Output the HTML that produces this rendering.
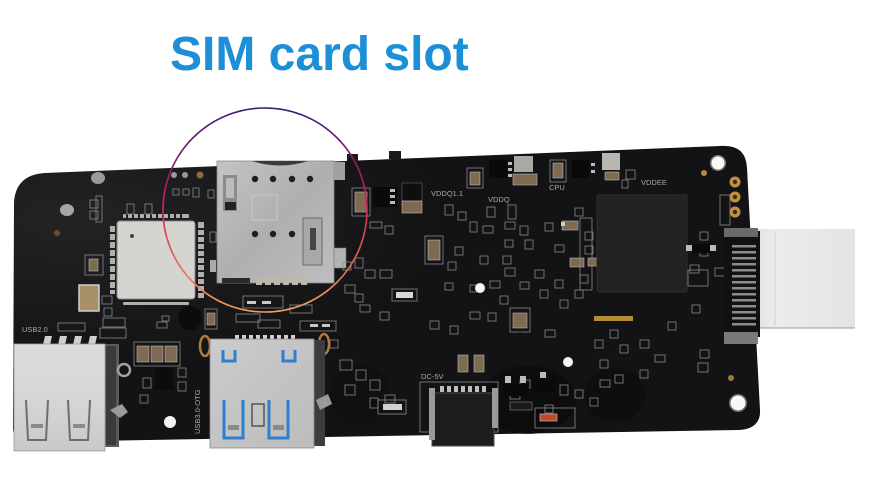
<!DOCTYPE html>
<html><head><meta charset="utf-8">
<style>
html,body{margin:0;padding:0;background:#fff;}
body{width:870px;height:497px;overflow:hidden;position:relative;font-family:"Liberation Sans",sans-serif;}
svg{position:absolute;left:0;top:0;}
.s{fill:none;stroke:#8a8a8a;stroke-width:0.8;}
.c{fill:#7d6a50;stroke:#b9b9b9;stroke-width:0.6;}
.p{fill:#b8b8b8;}
.lb{font-family:"Liberation Sans",sans-serif;font-size:7.5px;fill:#a8a8a8;}
</style></head><body>
<svg width="870" height="497" viewBox="0 0 870 497">
<defs>
 <linearGradient id="ring" x1="0" y1="0" x2="0" y2="1">
  <stop offset="0" stop-color="#3a1a7a"/>
  <stop offset="0.45" stop-color="#c4205e"/>
  <stop offset="1" stop-color="#f7a058"/>
 </linearGradient>
 <radialGradient id="bd" cx="0.08" cy="0.25" r="0.5">
  <stop offset="0" stop-color="#232326"/>
  <stop offset="1" stop-color="#131315"/>
 </radialGradient>
 <linearGradient id="sim" x1="0" y1="0" x2="1" y2="1">
  <stop offset="0" stop-color="#c4c4c4"/><stop offset="0.5" stop-color="#afafaf"/><stop offset="1" stop-color="#bebebe"/>
 </linearGradient>
 <linearGradient id="usb2" x1="0" y1="0" x2="0" y2="1">
  <stop offset="0" stop-color="#dcdcdc"/><stop offset="0.5" stop-color="#d6d6d6"/><stop offset="1" stop-color="#c9c9c9"/>
 </linearGradient>
 <linearGradient id="usb3" x1="0" y1="0" x2="1" y2="1">
  <stop offset="0" stop-color="#cbcbcb"/><stop offset="1" stop-color="#bcbcbc"/>
 </linearGradient>
 <linearGradient id="rib" x1="0" y1="0" x2="1" y2="0">
  <stop offset="0" stop-color="#e2e2e2"/><stop offset="0.2" stop-color="#ececec"/><stop offset="1" stop-color="#e4e4e4"/>
 </linearGradient>
</defs>

<text x="170" y="70" font-family="Liberation Sans, sans-serif" font-size="48" font-weight="bold" fill="#1c8fd6">SIM card slot</text>

<!-- small protrusions above board -->
<rect x="389" y="151" width="12" height="8" fill="#1a1a1a"/>
<rect x="347" y="154" width="11" height="8" fill="#1a1a1a"/>

<!-- ribbon -->
<rect x="755" y="229" width="100" height="99" fill="url(#rib)"/>
<line x1="775" y1="231" x2="775" y2="326" stroke="#d0d0d0" stroke-width="1"/>
<line x1="755" y1="328" x2="855" y2="328" stroke="#b09080" stroke-width="1"/>

<!-- board -->
<path d="M14,205 C14,186 24,174 45,173 L720,146 C738,145 746,152 747,168 L760,410 C761,423 752,430 738,430 L30,442 C19,442 13,437 13,428 Z" fill="url(#bd)"/>
<ellipse cx="528" cy="400" rx="48" ry="34" fill="#0c0c0e" opacity="0.7"/>
<ellipse cx="615" cy="395" rx="30" ry="28" fill="#0c0c0e" opacity="0.6"/>
<ellipse cx="360" cy="395" rx="30" ry="30" fill="#0d0d0f" opacity="0.5"/>

<!-- left holes / spots -->
<ellipse cx="98" cy="178" rx="7" ry="6" fill="#9a9a96"/>
<ellipse cx="67" cy="210" rx="7" ry="6" fill="#a8a8a2"/>
<circle cx="57" cy="233" r="3" fill="#6a4f2c"/>

<!-- wifi module pads -->
<g fill="#b0b0b0">
 <rect x="123" y="214" width="66" height="4" rx="1"/>
 <rect x="123" y="302" width="66" height="3" rx="1"/>
 <rect x="110" y="226" width="5" height="68"/>
 <rect x="198" y="222" width="6" height="76"/>
</g>
<g fill="#1e1e1e">
 <rect x="126" y="214" width="2" height="4"/><rect x="132" y="214" width="2" height="4"/><rect x="138" y="214" width="2" height="4"/><rect x="144" y="214" width="2" height="4"/><rect x="150" y="214" width="2" height="4"/><rect x="156" y="214" width="2" height="4"/><rect x="162" y="214" width="2" height="4"/><rect x="168" y="214" width="2" height="4"/><rect x="174" y="214" width="2" height="4"/><rect x="180" y="214" width="2" height="4"/>
 <rect x="198" y="228" width="6" height="2"/><rect x="198" y="235" width="6" height="2"/><rect x="198" y="242" width="6" height="2"/><rect x="198" y="249" width="6" height="2"/><rect x="198" y="256" width="6" height="2"/><rect x="198" y="263" width="6" height="2"/><rect x="198" y="270" width="6" height="2"/><rect x="198" y="277" width="6" height="2"/><rect x="198" y="284" width="6" height="2"/><rect x="198" y="291" width="6" height="2"/>
 <rect x="110" y="232" width="5" height="2"/><rect x="110" y="240" width="5" height="2"/><rect x="110" y="248" width="5" height="2"/><rect x="110" y="256" width="5" height="2"/><rect x="110" y="264" width="5" height="2"/><rect x="110" y="272" width="5" height="2"/><rect x="110" y="280" width="5" height="2"/><rect x="110" y="288" width="5" height="2"/>
</g>
<rect x="117" y="221" width="78" height="78" rx="3" fill="#d6d4ce" stroke="#8a8a86" stroke-width="1"/>
<circle cx="132" cy="236" r="2" fill="#444"/>

<!-- crystal & caps left -->
<rect x="79" y="285" width="20" height="26" fill="#a89068" stroke="#cfcfcf" stroke-width="1.5"/>
<rect x="89" y="259" width="9" height="12" class="c"/>
<rect x="85" y="255" width="18" height="20" class="s"/>
<rect x="90" y="200" width="8" height="8" class="s"/>
<rect x="90" y="211" width="8" height="8" class="s"/>
<rect x="96" y="196" width="6" height="26" class="s"/>
<rect x="127" y="204" width="7" height="10" class="s"/>
<rect x="145" y="204" width="7" height="10" class="s"/>
<rect x="102" y="296" width="10" height="8" class="s"/>
<rect x="104" y="308" width="8" height="8" class="s"/>
<rect x="157" y="322" width="10" height="6" class="s"/>
<rect x="103" y="318" width="22" height="9" class="s"/>
<rect x="100" y="328" width="26" height="10" class="s"/>

<!-- USB2 label -->
<text x="22" y="332" class="lb" font-size="8">USB2.0</text>
<rect x="58" y="323" width="27" height="8" class="s"/>

<!-- components near USB2 -->
<rect x="137" y="346" width="12" height="16" class="c"/>
<rect x="151" y="346" width="12" height="16" class="c"/>
<rect x="165" y="346" width="12" height="16" class="c"/>
<rect x="134" y="342" width="46" height="24" class="s"/>
<rect x="155" y="368" width="18" height="22" fill="#0c0c0c"/>
<rect x="143" y="378" width="8" height="10" class="s"/>
<rect x="178" y="368" width="8" height="9" class="s"/>
<rect x="178" y="382" width="8" height="9" class="s"/>
<rect x="140" y="395" width="8" height="8" class="s"/>
<circle cx="170" cy="422" r="6" fill="#f2f2f2"/>

<!-- USB2 connector -->
<g fill="#cfcfcf">
 <polygon points="45,336 52,336 50,345 43,345"/>
 <polygon points="60,336 67,336 65,345 58,345"/>
 <polygon points="75,336 82,336 80,345 73,345"/>
 <polygon points="90,336 97,336 95,345 88,345"/>
</g>
<rect x="103" y="344" width="16" height="103" fill="#5a5a5a"/>
<rect x="106" y="346" width="10" height="99" fill="#3a3a3a"/>
<circle cx="124" cy="370" r="6" fill="none" stroke="#a0a0a0" stroke-width="2.5"/>
<path d="M110,410 L122,404 L128,412 L120,418 Z" fill="#9a9a9a"/>
<rect x="14" y="344" width="91" height="107" fill="url(#usb2)" stroke="#9a9a9a" stroke-width="0.8"/>
<g fill="none" stroke="#6e6e6e" stroke-width="2">
 <path d="M26,400 L28,440 L46,440 L48,400"/>
 <path d="M68,400 L70,440 L88,440 L90,400"/>
</g>
<g fill="#8a8a8a">
 <rect x="31" y="424" width="12" height="4"/><rect x="73" y="424" width="12" height="4"/>
</g>

<!-- SIM slot area small stuff -->
<circle cx="174" cy="175" r="3" fill="#9a9a90"/>
<circle cx="185" cy="175" r="3" fill="#9a9a90"/>
<circle cx="200" cy="175" r="3.5" fill="#8a6a3a"/>
<rect x="173" y="189" width="6" height="6" class="s"/>
<rect x="183" y="189" width="6" height="6" class="s"/>
<rect x="193" y="188" width="6" height="9" class="s"/>
<rect x="208" y="190" width="6" height="8" class="s"/>
<rect x="210" y="232" width="6" height="10" class="s"/>
<rect x="210" y="260" width="6" height="12" fill="#aaa"/>

<!-- SIM slot -->
<rect x="217" y="161" width="117" height="122" fill="url(#sim)" stroke="#888" stroke-width="0.8"/>
<path d="M252,161 Q280,170 308,161 Z" fill="#3a3a3a"/>
<rect x="223" y="175" width="14" height="36" fill="#8c8c8c"/>
<rect x="226" y="178" width="8" height="20" fill="#bcbcbc"/>
<rect x="225" y="202" width="11" height="8" fill="#222"/>
<g fill="#1e1e1e">
 <circle cx="255" cy="179" r="3.2"/><circle cx="273" cy="179" r="3.2"/><circle cx="292" cy="179" r="3.2"/><circle cx="310" cy="179" r="3.2"/>
 <circle cx="255" cy="234" r="3.2"/><circle cx="273" cy="234" r="3.2"/><circle cx="292" cy="234" r="3.2"/>
</g>
<rect x="252" y="195" width="25" height="25" fill="none" stroke="#c8c8c8" stroke-width="1"/>
<rect x="303" y="218" width="19" height="47" fill="#a8a8a8" stroke="#6a6a6a" stroke-width="1"/>
<rect x="310" y="228" width="6" height="22" fill="#444"/>
<rect x="333" y="162" width="12" height="18" fill="#a0a0a0"/>
<rect x="334" y="248" width="12" height="20" fill="#b4b4b4" stroke="#777" stroke-width="0.6"/>
<rect x="222" y="278" width="28" height="5" fill="#2a2a2a"/>
<g fill="#c0b8a8">
 <rect x="256" y="278" width="6" height="7"/><rect x="265" y="278" width="6" height="7"/><rect x="274" y="278" width="6" height="7"/><rect x="283" y="278" width="6" height="7"/><rect x="292" y="278" width="6" height="7"/><rect x="301" y="278" width="6" height="7"/>
</g>

<!-- below SIM -->
<rect x="243" y="296" width="40" height="12" class="s"/>
<rect x="236" y="314" width="24" height="8" class="s"/>
<rect x="258" y="320" width="22" height="8" class="s"/>
<rect x="290" y="305" width="22" height="8" class="s"/>
<rect x="300" y="321" width="36" height="10" class="s"/>
<rect x="205" y="309" width="12" height="20" class="s"/>
<rect x="207" y="313" width="8" height="12" class="c"/>
<rect x="162" y="316" width="7" height="5" class="s"/>
<ellipse cx="190" cy="318" rx="12" ry="12" fill="#0c0c0d"/>
<rect x="247" y="301" width="9" height="3" fill="#c8c8c8"/><rect x="262" y="301" width="9" height="3" fill="#c8c8c8"/>
<rect x="310" y="324" width="8" height="3" fill="#c8c8c8"/><rect x="322" y="324" width="8" height="3" fill="#c8c8c8"/>

<!-- right of SIM -->
<rect x="355" y="192" width="12" height="20" class="c"/>
<rect x="352" y="188" width="18" height="28" class="s"/>
<rect x="373" y="187" width="24" height="20" fill="#0a0a0a"/>
<rect x="390" y="189" width="5" height="3" fill="#bbb"/><rect x="390" y="195" width="5" height="3" fill="#bbb"/><rect x="390" y="201" width="5" height="3" fill="#bbb"/>
<rect x="402" y="183" width="20" height="18" fill="#0e0e0e" stroke="#666" stroke-width="0.6"/>
<rect x="402" y="201" width="20" height="12" class="c"/>
<text x="431" y="196" class="lb">VDDQ1.1</text>
<text x="488" y="202" class="lb">VDDQ</text>
<text x="549" y="190" class="lb" font-size="6.5">CPU</text>
<text x="641" y="185" class="lb">VDDEE</text>

<rect x="470" y="172" width="10" height="13" class="c"/>
<rect x="467" y="168" width="16" height="20" class="s"/>
<rect x="489" y="160" width="18" height="18" fill="#0a0a0a"/>
<rect x="508" y="162" width="4" height="3" fill="#bbb"/><rect x="508" y="168" width="4" height="3" fill="#bbb"/><rect x="508" y="174" width="4" height="3" fill="#bbb"/>
<rect x="514" y="156" width="19" height="16" fill="#a8a8a4"/>
<rect x="513" y="174" width="24" height="11" class="c"/>
<rect x="553" y="163" width="10" height="15" class="c"/>
<rect x="550" y="160" width="16" height="22" class="s"/>
<rect x="572" y="160" width="17" height="18" fill="#0a0a0a"/>
<rect x="591" y="163" width="4" height="3" fill="#bbb"/><rect x="591" y="170" width="4" height="3" fill="#bbb"/>
<rect x="602" y="153" width="18" height="17" fill="#b8b6ae"/>
<rect x="605" y="172" width="14" height="8" class="c"/>
<rect x="626" y="170" width="9" height="9" class="s"/>
<rect x="622" y="180" width="6" height="8" class="s"/>

<rect x="428" y="240" width="12" height="20" class="c"/>
<rect x="425" y="236" width="18" height="28" class="s"/>
<rect x="562" y="221" width="16" height="9" class="c"/>
<rect x="570" y="258" width="14" height="9" class="c"/>
<rect x="513" y="313" width="14" height="15" class="c"/>
<rect x="510" y="308" width="20" height="24" class="s"/>
<rect x="396" y="292" width="17" height="6" fill="#d8d8d8"/>
<rect x="392" y="289" width="25" height="12" class="s"/>

<!-- silkscreen clutter middle -->
<g class="s">
 <rect x="445" y="205" width="8" height="10"/><rect x="458" y="212" width="8" height="8"/><rect x="487" y="207" width="8" height="10"/><rect x="508" y="205" width="8" height="14"/>
 <rect x="370" y="222" width="12" height="6"/><rect x="385" y="226" width="8" height="8"/><rect x="470" y="222" width="7" height="10"/><rect x="483" y="226" width="10" height="7"/>
 <rect x="505" y="222" width="10" height="7"/><rect x="520" y="226" width="8" height="9"/><rect x="545" y="223" width="8" height="8"/><rect x="505" y="240" width="8" height="7"/>
 <rect x="525" y="240" width="8" height="9"/><rect x="555" y="245" width="9" height="7"/><rect x="448" y="262" width="8" height="8"/><rect x="455" y="247" width="8" height="8"/>
 <rect x="480" y="256" width="8" height="8"/><rect x="503" y="256" width="8" height="8"/><rect x="505" y="268" width="10" height="8"/><rect x="445" y="283" width="8" height="7"/>
 <rect x="470" y="285" width="8" height="7"/><rect x="490" y="281" width="10" height="7"/><rect x="500" y="296" width="8" height="8"/><rect x="520" y="282" width="9" height="7"/>
 <rect x="535" y="270" width="9" height="8"/><rect x="540" y="290" width="8" height="8"/><rect x="555" y="280" width="8" height="8"/><rect x="560" y="300" width="8" height="8"/>
 <rect x="575" y="290" width="8" height="8"/><rect x="580" y="275" width="8" height="8"/><rect x="585" y="232" width="8" height="8"/><rect x="585" y="246" width="8" height="8"/>
 <rect x="575" y="208" width="8" height="8"/><rect x="545" y="330" width="10" height="7"/><rect x="470" y="312" width="10" height="7"/><rect x="488" y="313" width="8" height="8"/>
 <rect x="450" y="326" width="8" height="8"/><rect x="430" y="321" width="9" height="8"/><rect x="380" y="312" width="9" height="8"/><rect x="360" y="305" width="10" height="7"/>
 <rect x="355" y="294" width="8" height="8"/><rect x="343" y="262" width="8" height="8"/><rect x="355" y="258" width="8" height="10"/><rect x="365" y="270" width="10" height="8"/>
 <rect x="345" y="285" width="10" height="8"/><rect x="380" y="270" width="12" height="8"/><rect x="595" y="340" width="8" height="8"/><rect x="610" y="330" width="8" height="8"/>
 <rect x="620" y="345" width="8" height="8"/><rect x="640" y="340" width="9" height="8"/><rect x="668" y="322" width="8" height="8"/><rect x="700" y="350" width="9" height="8"/>
 <rect x="692" y="305" width="8" height="8"/><rect x="700" y="232" width="8" height="8"/><rect x="700" y="246" width="8" height="10"/><rect x="715" y="268" width="10" height="8"/>
 <rect x="690" y="265" width="9" height="8"/><rect x="655" y="355" width="10" height="7"/><rect x="640" y="370" width="8" height="8"/><rect x="600" y="360" width="8" height="8"/>
 <rect x="600" y="380" width="10" height="7"/><rect x="615" y="375" width="8" height="8"/><rect x="560" y="385" width="8" height="10"/><rect x="575" y="390" width="8" height="8"/>
 <rect x="590" y="398" width="8" height="8"/><rect x="520" y="380" width="10" height="8"/><rect x="510" y="392" width="10" height="7"/><rect x="545" y="405" width="8" height="8"/>
 <rect x="580" y="218" width="12" height="72"/><rect x="688" y="270" width="20" height="16"/><rect x="720" y="195" width="10" height="30"/>
 <rect x="340" y="360" width="12" height="10"/><rect x="356" y="370" width="10" height="10"/><rect x="370" y="380" width="10" height="10"/><rect x="345" y="385" width="10" height="10"/>
 <rect x="385" y="395" width="10" height="8"/><rect x="370" y="398" width="8" height="10"/><rect x="330" y="340" width="8" height="8"/>
</g>
<rect x="588" y="258" width="10" height="8" class="c"/>
<rect x="561" y="222" width="4" height="4" fill="#ccc"/>

<!-- gold strip -->
<rect x="594" y="316" width="39" height="5" fill="#b48c34"/>

<!-- CPU chip -->
<rect x="597" y="195" width="90" height="97" rx="2" fill="#222224" stroke="#2e2e30" stroke-width="1"/>
<rect x="686" y="245" width="8" height="6" fill="#bbb"/>
<rect x="692" y="244" width="20" height="9" fill="#0a0a0a"/>
<rect x="710" y="245" width="6" height="6" fill="#bbb"/>

<!-- right holes & pads -->
<circle cx="718" cy="163" r="8" fill="#7a7a7a"/>
<circle cx="718" cy="163" r="6.5" fill="#f8f8f8"/>
<circle cx="704" cy="173" r="3" fill="#b08a40"/>
<g fill="#c09040">
 <circle cx="735" cy="182" r="5.5"/><circle cx="735" cy="197" r="5.5"/><circle cx="735" cy="212" r="5.5"/>
</g>
<g fill="#3a2a18">
 <circle cx="735" cy="182" r="2.2"/><circle cx="735" cy="197" r="2.2"/><circle cx="735" cy="212" r="2.2"/>
</g>
<circle cx="738" cy="403" r="9" fill="#6e6e6e"/>
<circle cx="738" cy="403" r="7.5" fill="#f8f8f8"/>
<circle cx="731" cy="378" r="3" fill="#9a7a38"/>
<circle cx="480" cy="288" r="5" fill="#f6f6f6"/>
<circle cx="568" cy="362" r="5" fill="#f6f6f6"/>
<rect x="698" y="363" width="10" height="9" class="s"/>

<!-- ribbon connector comb -->
<rect x="724" y="231" width="36" height="106" fill="#111"/>
<rect x="724" y="228" width="34" height="9" fill="#6a6a6a"/>
<rect x="724" y="332" width="34" height="12" fill="#7a7a7a"/>
<g fill="#8c8c8c">
 <rect x="732" y="245" width="24" height="2.5"/><rect x="732" y="251" width="24" height="2.5"/><rect x="732" y="257" width="24" height="2.5"/><rect x="732" y="263" width="24" height="2.5"/>
 <rect x="732" y="269" width="24" height="2.5"/><rect x="732" y="275" width="24" height="2.5"/><rect x="732" y="281" width="24" height="2.5"/><rect x="732" y="287" width="24" height="2.5"/>
 <rect x="732" y="293" width="24" height="2.5"/><rect x="732" y="299" width="24" height="2.5"/><rect x="732" y="305" width="24" height="2.5"/><rect x="732" y="311" width="24" height="2.5"/>
 <rect x="732" y="317" width="24" height="2.5"/><rect x="732" y="323" width="24" height="2.5"/>
</g>

<!-- USB3 -->
<ellipse cx="205" cy="346" rx="5" ry="10" fill="none" stroke="#b07a40" stroke-width="2.5"/>
<ellipse cx="324" cy="344" rx="5" ry="10" fill="none" stroke="#b07a40" stroke-width="2.5"/>
<g fill="#d0d0d0">
 <rect x="235" y="335" width="4" height="5"/><rect x="242" y="335" width="4" height="5"/><rect x="249" y="335" width="4" height="5"/><rect x="256" y="335" width="4" height="5"/><rect x="263" y="335" width="4" height="5"/><rect x="270" y="335" width="4" height="5"/><rect x="277" y="335" width="4" height="5"/><rect x="284" y="335" width="4" height="5"/><rect x="291" y="335" width="4" height="5"/>
</g>
<rect x="313" y="340" width="12" height="106" fill="#3c3c3c"/>
<path d="M316,400 L328,394 L332,404 L320,410 Z" fill="#9a9a9a"/>
<text x="0" y="0" class="lb" font-size="8" transform="translate(200,434) rotate(-90)">USB3.0-OTG</text>
<rect x="210" y="339" width="104" height="109" fill="url(#usb3)" stroke="#8a8a8a" stroke-width="0.8"/>
<g fill="none" stroke="#2d7fd2" stroke-width="3">
 <path d="M223,350 L223,361 L235,361 L235,350"/>
 <path d="M283,350 L283,361 L295,361 L295,350"/>
 <path d="M224,400 L224,438 L243,438 L243,400"/>
 <path d="M269,400 L269,438 L288,438 L288,400"/>
</g>
<rect x="252" y="404" width="12" height="22" fill="none" stroke="#555" stroke-width="1.5"/>
<g fill="#8a8a8a"><rect x="228" y="425" width="11" height="5"/><rect x="273" y="425" width="11" height="5"/></g>

<!-- USB-C / DC-5V -->
<text x="421" y="379" class="lb" font-size="8">DC-5V</text>
<rect x="458" y="355" width="10" height="17" class="c"/>
<rect x="474" y="355" width="10" height="17" class="c"/>
<rect x="420" y="382" width="78" height="50" class="s"/>
<g fill="#bdbdbd">
 <rect x="440" y="386" width="4" height="6"/><rect x="447" y="386" width="4" height="6"/><rect x="454" y="386" width="4" height="6"/><rect x="461" y="386" width="4" height="6"/><rect x="468" y="386" width="4" height="6"/><rect x="475" y="386" width="4" height="6"/><rect x="482" y="386" width="4" height="6"/>
</g>
<rect x="432" y="393" width="62" height="53" fill="#1d1d1f" stroke="#4a4a4a" stroke-width="1"/>
<rect x="429" y="388" width="6" height="52" fill="#9a9a9a"/>
<rect x="492" y="388" width="6" height="40" fill="#9a9a9a"/>

<!-- components near USB-C -->
<rect x="383" y="404" width="19" height="6" fill="#d0d0d0"/>
<rect x="378" y="400" width="28" height="14" class="s"/>
<rect x="505" y="376" width="6" height="7" fill="#bbb"/><rect x="520" y="376" width="6" height="7" fill="#bbb"/>
<rect x="503" y="384" width="26" height="12" fill="#0a0a0a"/>
<rect x="540" y="372" width="6" height="6" fill="#bbb"/>
<rect x="533" y="378" width="22" height="14" fill="#0a0a0a"/>
<rect x="510" y="402" width="22" height="8" fill="#1a1a1a" stroke="#888" stroke-width="0.6"/>
<rect x="535" y="408" width="40" height="20" class="s"/>
<rect x="540" y="414" width="17" height="7" fill="#c04a22" stroke="#aaa" stroke-width="0.8"/>

<!-- SIM highlight ring -->
<circle cx="265" cy="210" r="102" fill="none" stroke="url(#ring)" stroke-width="1.6"/>
</svg>
</body></html>
